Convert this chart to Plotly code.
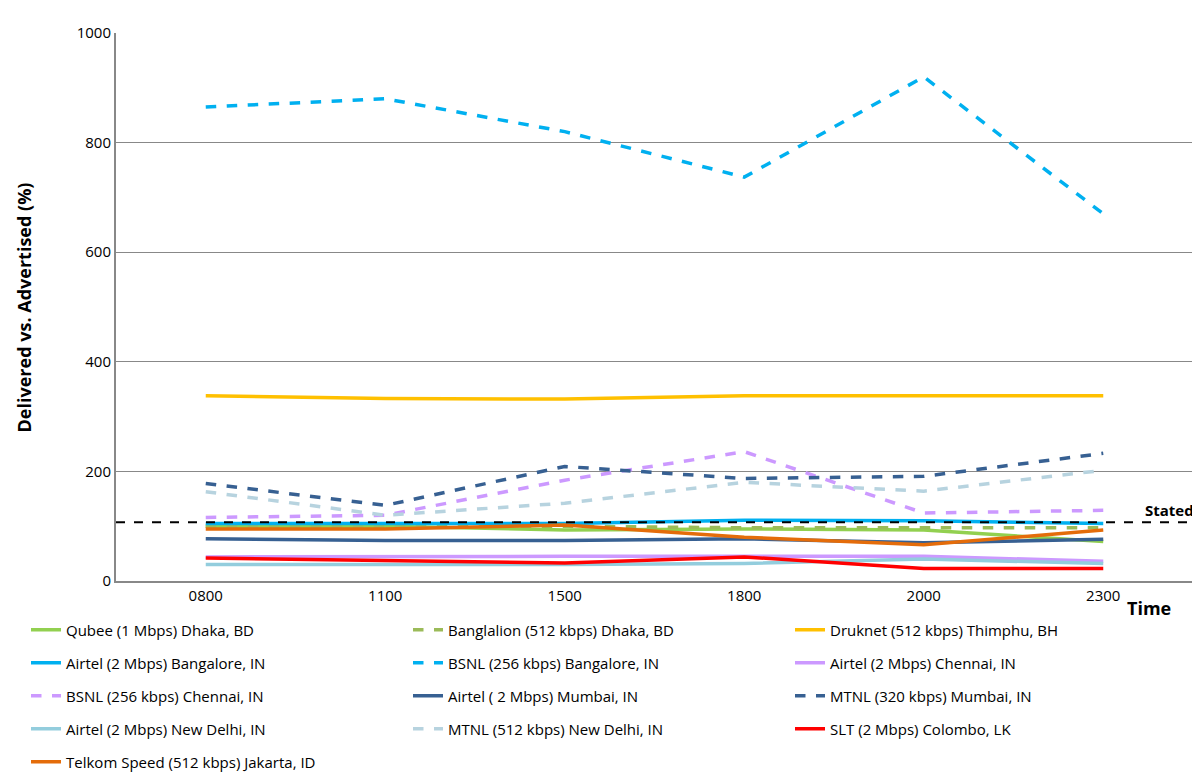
import plotly.graph_objects as go

times = ["0800", "1100", "1500", "1800", "2000", "2300"]
names = ["Qubee (1 Mbps) Dhaka, BD", "Banglalion (512 kbps) Dhaka, BD", "Druknet (512 kbps) Thimphu, BH",
         "Airtel (2 Mbps) Bangalore, IN", "BSNL (256 kbps) Bangalore, IN", "Airtel (2 Mbps) Chennai, IN",
         "BSNL (256 kbps) Chennai, IN", "Airtel ( 2 Mbps) Mumbai, IN", "MTNL (320 kbps) Mumbai, IN",
         "Airtel (2 Mbps) New Delhi, IN", "MTNL (512 kbps) New Delhi, IN", "SLT (2 Mbps) Colombo, LK",
         "Telkom Speed (512 kbps) Jakarta, ID"]
qubee = [100, 100, 93, 95, 93, 72]
banglalion = [100, 100, 100, 97, 97, 97]
druknet = [338, 333, 332, 338, 338, 338]
airtel_blr = [105, 105, 105, 111, 110, 105]
bsnl_blr = [865, 880, 820, 737, 920, 670]
airtel_chn = [44, 45, 45, 45, 45, 36]
bsnl_chn = [116, 120, 184, 236, 124, 129]
airtel_mum = [77, 74, 74, 77, 70, 76]
mtnl_mum = [178, 138, 209, 187, 191, 233]
airtel_del = [30, 30, 30, 32, 40, 32]
mtnl_del = [163, 120, 142, 180, 164, 202]
slt = [42, 37, 33, 44, 23, 23]
telkom = [95, 95, 102, 80, 66, 93]
stated = 107

series = [qubee, banglalion, druknet, airtel_blr, bsnl_blr, airtel_chn, bsnl_chn, airtel_mum,
          mtnl_mum, airtel_del, mtnl_del, slt, telkom]
colors = ["#92D050", "#9BBB59", "#FFC000", "#00B0F0", "#00B0F0", "#CC99FF", "#CC99FF",
          "#376092", "#376092", "#93CDDD", "#B7D3DF", "#FF0000", "#E46C0A"]
dashes = ["solid", "dash", "solid", "solid", "dash", "solid", "dash", "solid", "dash",
          "solid", "dash", "solid", "solid"]

fig = go.Figure()
layout = dict(
    width=1200, height=775, plot_bgcolor="white", paper_bgcolor="white",
    font=dict(family="Open Sans, Liberation Sans, sans-serif", size=15, color="black"),
    margin=dict(l=108, r=15, t=25, b=202, autoexpand=False),
    showlegend=True,
    xaxis=dict(showline=True, linecolor="#888", linewidth=2, ticks="", tickfont=dict(size=15),
               range=[-0.5, 5.5]),
    yaxis=dict(range=[0, 1000], dtick=200, showgrid=True, gridcolor="#888", gridwidth=1,
               showline=True, linecolor="#888", linewidth=2, tickfont=dict(size=15)),
)
for i, (n, s, c, d) in enumerate(zip(names, series, colors, dashes)):
    row, col = divmod(i, 3)
    lg = "legend" if i == 0 else f"legend{i + 1}"
    fig.add_trace(go.Scatter(x=times, y=s, name=n, mode="lines", legend=lg,
                             line=dict(color=c, width=3.5, dash=d)))
    layout[lg] = dict(x=(18 + 382 * col) / 1200, xref="container", xanchor="left",
                      y=(775 - 622 - 33 * row) / 775, yref="container", yanchor="middle",
                      font=dict(size=15), bgcolor="rgba(0,0,0,0)")
fig.add_hline(y=stated, line=dict(color="black", width=2, dash="dash"))
fig.add_annotation(text="<b>Stated</b>", x=1.0, xref="paper", y=stated, yref="y", xshift=3,
                   yanchor="bottom", xanchor="right", showarrow=False, font=dict(size=15, color="black"))
fig.add_annotation(text="<b>Time</b>", x=0.981, xref="paper", y=-0.05, yref="paper",
                   xanchor="right", yanchor="middle", showarrow=False, font=dict(size=18, color="black"))
fig.add_annotation(text="<b>Delivered vs. Advertised (%)</b>", textangle=-90, x=-0.085, xref="paper",
                   y=0.5, yref="paper", xanchor="center", yanchor="middle", showarrow=False,
                   font=dict(size=18, color="black"))
fig.update_layout(**layout)
fig.write_html("out.html")
